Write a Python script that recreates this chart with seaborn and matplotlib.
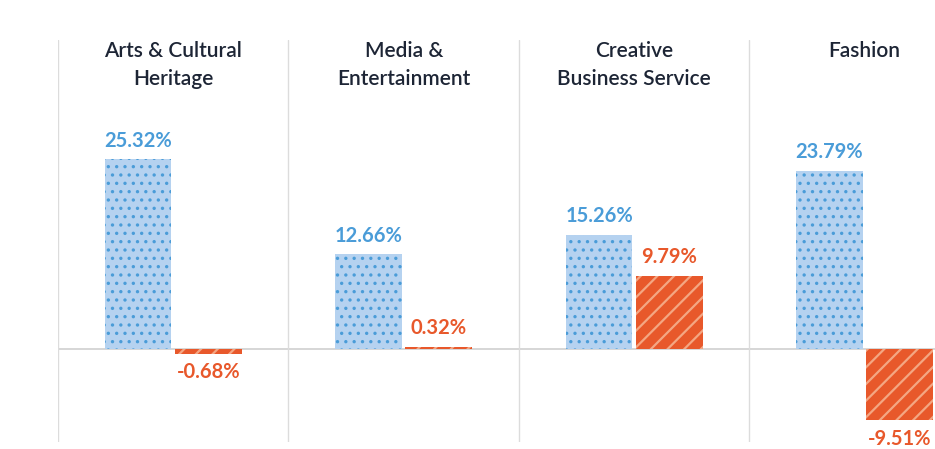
import matplotlib
matplotlib.use('Agg')
import matplotlib.pyplot as plt
import matplotlib.transforms as mtransforms
import seaborn as sns
import pandas as pd

# data
categories = ['Arts & Cultural\nHeritage', 'Media &\nEntertainment',
              'Creative\nBusiness Service', 'Fashion']
series = ['Series A', 'Series B']
values_a = [25.32, 12.66, 15.26, 23.79]
values_b = [-0.68, 0.32, 9.79, -9.51]

blue_fill = '#b5d2f0'
blue_dot = '#4a9cd8'
orange_fill = '#e8582b'
orange_stripe = '#f4a683'
text_dark = '#1d2535'

df = pd.DataFrame({
    'category': categories * 2,
    'series': [series[0]] * len(categories) + [series[1]] * len(categories),
    'value': values_a + values_b,
})

sns.set_theme(style='white')
plt.rcParams['font.family'] = ['Lato', 'DejaVu Sans']
plt.rcParams['hatch.linewidth'] = 1.4

fig = plt.figure(figsize=(9.35, 4.49), dpi=100)
ax = fig.add_axes([58 / 935, 7 / 449, 1 - 58 / 935, 402 / 449])

sns.barplot(data=df, x='category', y='value', hue='series',
            palette=[blue_fill, orange_fill], saturation=1,
            width=0.61, gap=0.05, legend=False, ax=ax)

# hatching: dots on the blue bars, stripes on the orange ones
hatch_style = {0: ('..', blue_dot, 1.2), 1: ('//', orange_stripe, 1.6)}
for i, container in enumerate(ax.containers):
    hatch, col, hlw = hatch_style[i]
    for bar in container:
        bar.set_hatch(hatch)
        bar.set_edgecolor(col)
        bar.set_linewidth(0)
        if hasattr(bar, 'set_hatch_linewidth'):
            bar.set_hatch_linewidth(hlw)
    ax.bar_label(container, labels=[f'{v:.2f}%' for v in container.datavalues],
                 padding=6, fontsize=14.5, fontweight='bold',
                 color=[blue_dot, orange_fill][i])

ax.set_xlim(-0.5, 3.305)
ax.set_ylim(-12.4, 41.2)

# zero line and panel separators
ax.axhline(0, color='#cfcfcf', lw=1.2, zorder=0)
for x in [-0.5, 0.5, 1.5, 2.5]:
    ax.axvline(x, color='#dcdcdc', lw=1, zorder=0)

# category names across the top of each panel
trans = mtransforms.blended_transform_factory(ax.transData, ax.transAxes)
for i, cat in enumerate(categories):
    ax.text(i, 0.997, cat, transform=trans, ha='center', va='top',
            fontsize=15, color=text_dark, linespacing=1.5, fontweight='semibold')

ax.set_xticks([])
ax.set_yticks([])
ax.set_xlabel('')
ax.set_ylabel('')
sns.despine(ax=ax, left=True, bottom=True)

fig.savefig('out.png', dpi=100)
